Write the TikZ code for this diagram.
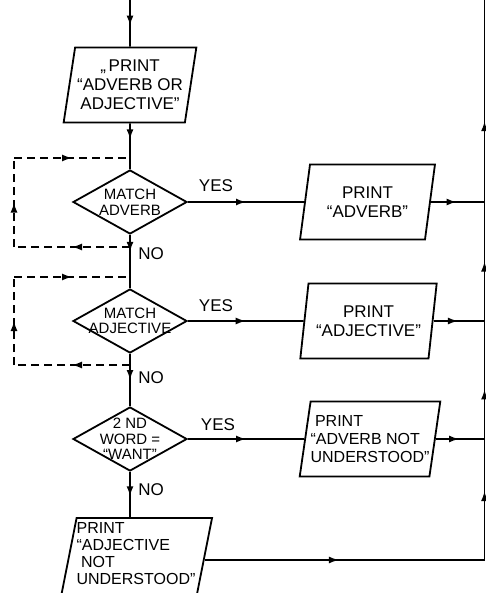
\documentclass[tikz,border=0pt]{standalone}
\usepackage{fontspec}
\setmainfont{Liberation Sans}
\usetikzlibrary{arrows.meta, positioning, shapes.geometric, decorations.markings}

\begin{document}
\begin{tikzpicture}[x=0.5pt, y=-0.5pt,
      line width=0.9pt,
      outbox/.style={draw, trapezium, trapezium left angle=78,
                     trapezium right angle=102, trapezium stretches=true,
                     minimum height=37.5pt, inner sep=1pt,
                     font=\fontsize{8.5}{9.5}\selectfont, align=center},
      decision/.style={draw, diamond, aspect=1.78, minimum width=57pt,
                       minimum height=32pt, inner sep=-3pt,
                       font=\fontsize{7.5}{7.8}\selectfont, align=center},
      lbl/.style={font=\fontsize{8.5}{9}\selectfont},
      loop/.style={dash pattern=on 4pt off 2.5pt, line width=0.8pt},
      midarrow/.style={postaction={decorate}, decoration={markings,
                   mark=at position #1 with {\arrow{Latex[length=5pt,width=3.5pt]}}}},
      midarrow/.default=0.5]
    \useasboundingbox (0,0) rectangle (486,593);
    \clip (0,0) rectangle (486,593);
    % boxes and tests
    \node[outbox, minimum width=65.5pt] (b1) at (130,85)
          {„\,PRINT\\“ADVERB OR\\ADJECTIVE”};
    \node[decision] (d1) at (130,202) {MATCH\\ADVERB};
    \node[decision] (d2) at (130,321) {MATCH\\ADJECTIVE};
    \node[decision] (d3) at (130,439) {2 ND\\WORD =\\“WANT”};
    \node[outbox, minimum width=67.5pt] (b2) at (367.5,202) {PRINT\\“ADVERB”};
    \node[outbox, minimum width=68.5pt] (b3) at (368.5,321) {PRINT\\“ADJECTIVE”};
    \node[outbox, minimum width=67pt, align=left, inner xsep=0pt,
          font=\fontsize{8}{9}\selectfont] (b4) at (370,439)
          {\ PRINT\\“ADVERB NOT\\UNDERSTOOD”};
    \node[outbox, minimum width=67pt, minimum height=42pt, align=left,
          inner xsep=0pt, font=\fontsize{8}{8.4}\selectfont] (b5) at (136,560)
          {PRINT\\“ADJECTIVE\\\ NOT\\UNDERSTOOD”\\[-2pt]\mbox{}};
    \coordinate (top) at (130,0);
    \coordinate (rtop) at (484.5,0);
    % main line
    \draw[midarrow=0.55] (top) -- (b1);
    \draw[midarrow=0.35] (b1) -- (d1);
    \draw[midarrow=0.32] (d1) -- (d2);
    \draw[midarrow=0.5] (d2) -- (d3);
    \draw[midarrow=0.54] (d3.south) -- (d3.south |- b5.north);
    \node[lbl] (no1) at (151,254) {NO};
    \node[lbl] (no2) at (151,378) {NO};
    \node[lbl] (no3) at (151,490) {NO};
    % yes branches
    \draw[midarrow] (d1.east) -- (b2.west);
    \draw[midarrow] (d2.east) -- (b3.west);
    \draw[midarrow] (d3.east) -- (b4.west);
    \node[lbl] (yes1) at (216,186) {YES};
    \node[lbl] (yes2) at (216,306) {YES};
    \node[lbl] (yes3) at (218,425) {YES};
    % to the right
    \draw[midarrow=0.48] (b2.east) -- (b2.east -| rtop);
    \draw[midarrow=0.48] (b3.east) -- (b3.east -| rtop);
    \draw[midarrow=0.48] (b4.east) -- (b4.east -| rtop);
    \draw[midarrow=0.48] (b5.east) -- (b5.east -| rtop);
    \draw[midarrow=0.57] (b5.east -| rtop) -- (b4.east -| rtop);
    \draw[midarrow=0.42] (b4.east -| rtop) -- (b3.east -| rtop);
    \draw[midarrow=0.5] (b3.east -| rtop) -- (b2.east -| rtop);
    \draw[midarrow=0.4] (b2.east -| rtop) -- (rtop);
    % dashed loops
    \coordinate (l1bot) at (130,247);
    \coordinate (l1top) at (130,158);
    \coordinate (l2bot) at (130,365);
    \coordinate (l2top) at (130,277);
    \draw[loop, midarrow] (l1bot) -- (14,247) coordinate (l1botL);
    \draw[loop, midarrow] (l1botL) -- (14,158) coordinate (l1topL);
    \draw[loop, midarrow] (l1topL) -- (l1top);
    \draw[loop, midarrow] (l2bot) -- (14,365) coordinate (l2botL);
    \draw[loop, midarrow] (l2botL) -- (14,277) coordinate (l2topL);
    \draw[loop, midarrow] (l2topL) -- (l2top);
  \end{tikzpicture}
\end{document}
